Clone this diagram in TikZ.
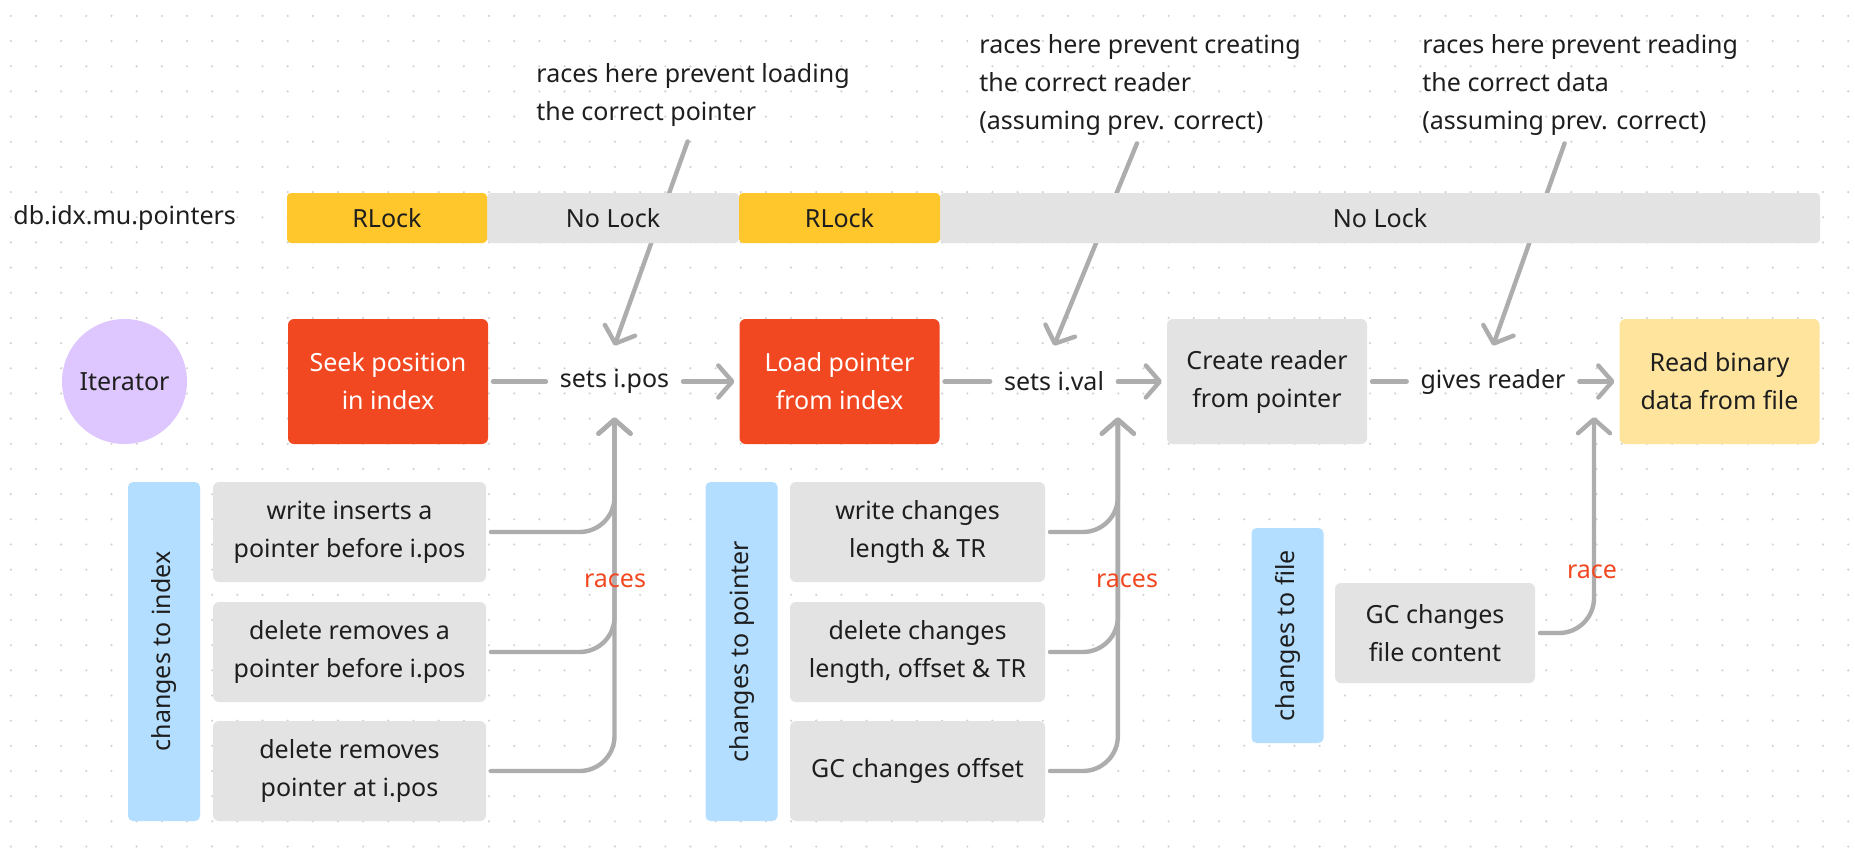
\documentclass[tikz,border=0pt]{standalone}
\usepackage{fontspec}
\setmainfont{Noto Sans}
\usetikzlibrary{arrows.meta,calc}
\definecolor{ink}{HTML}{1E1E1E}
\definecolor{redbox}{HTML}{F24822}
\definecolor{lockyel}{HTML}{FFC72C}
\definecolor{greybox}{HTML}{E3E3E3}
\definecolor{paleyel}{HTML}{FFE49E}
\definecolor{paleblue}{HTML}{B3DEFF}
\definecolor{lilac}{HTML}{DEC6FF}
\definecolor{wire}{HTML}{ADADAD}
\definecolor{racered}{HTML}{F24822}
\definecolor{dotc}{HTML}{D2D2D2}
\pgfdeclarelayer{dotlayer}
\pgfdeclarelayer{wirelayer}
\pgfsetlayers{dotlayer,wirelayer,main}
\begin{document}
\begin{tikzpicture}[x=0.5pt,y=-0.5pt,
  font=\fontsize{12.5}{19}\selectfont, text=ink,
  box/.style={rounded corners=3pt, align=center, inner sep=0pt, outer sep=2.5pt},
  bigbox/.style={box, minimum width=100pt, minimum height=62.5pt},
  smallbox/.style={box, fill=greybox, minimum height=50pt},
  lockbar/.style={minimum height=25pt, inner sep=0pt, rounded corners=2pt},
  bluebar/.style={fill=paleblue, rounded corners=2.5pt, rotate=90, inner sep=0pt, minimum height=36pt},
  midlabel/.style={minimum height=35.5pt, inner xsep=6.75pt, inner ysep=0pt},
  note/.style={align=left, inner sep=0pt},
  conn/.style={draw=wire, line width=2.2pt, line cap=round, line join=round},
  arr/.style={conn, -{Straight Barb[length=7pt,width=16pt,round]}},
  racelbl/.style={text=racered, inner sep=0pt},
]
\useasboundingbox (0,0) rectangle (1855,852);
\begin{pgfonlayer}{dotlayer}
\fill[white] (0,0) rectangle (1855,852);
\foreach \i in {0,...,73} {\foreach \j in {0,...,33} {\fill[dotc] (10.8+\i*25.17, 15.9+\j*25.17) circle (0.6pt);}}
\end{pgfonlayer}

% lock row
\node[anchor=west, inner sep=0pt] (db) at (13,218) {db.idx.mu.pointers};
\node[lockbar, fill=greybox, minimum width=126pt] (nl1) at (613,218) {No Lock};
\node[lockbar, fill=greybox, minimum width=440pt] (nl2) at (1380,218) {No Lock};
\node[lockbar, fill=lockyel, minimum width=100pt] (rl1) at (387,218) {RLock};
\node[lockbar, fill=lockyel, minimum width=100.5pt] (rl2) at (839.5,218) {RLock};

% main row
\node[circle, fill=lilac, minimum size=62.5pt, inner sep=0pt] (it) at (124.5,381.5) {Iterator};
\node[bigbox, fill=redbox, text=white] (seek) at (388,381.5) {Seek position\\in index};
\node[midlabel] (ipos) at (614.5,381.5) {sets i.pos};
\node[bigbox, fill=redbox, text=white] (load) at (839.5,381.5) {Load pointer\\from index};
\node[midlabel] (ival) at (1054,381.5) {sets i.val};
\node[bigbox, fill=greybox] (create) at (1267,381.5) {Create reader\\from pointer};
\node[midlabel] (gives) at (1493,381.5) {gives reader};
\node[bigbox, fill=paleyel] (read) at (1719.5,381.5) {Read binary\\data from file};

% notes
\node[note, anchor=west] (ann1) at (536,94.5) {races here prevent loading\\the correct pointer};
\node[note, anchor=west] (ann2) at (979,85) {races here prevent creating\\the correct reader\\(assuming prev. correct)};
\node[note, anchor=west] (ann3) at (1422,85) {races here prevent reading\\the correct data\\(assuming prev. correct)};

% change groups
\node[bluebar, minimum width=169.5pt] (blue1) at (164,651.5) {changes to index};
\node[smallbox, minimum width=136.5pt] (c1a) at (349.5,532) {write inserts a\\pointer before i.pos};
\node[smallbox, minimum width=136.5pt] (c1b) at (349.5,652) {delete removes a\\pointer before i.pos};
\node[smallbox, minimum width=136.5pt] (c1c) at (349.5,771) {delete removes\\pointer at i.pos};
\node[bluebar, minimum width=169.5pt] (blue2) at (741.5,651.5) {changes to pointer};
\node[smallbox, minimum width=127.5pt] (c2a) at (917.5,532) {write changes\\length \& TR};
\node[smallbox, minimum width=127.5pt] (c2b) at (917.5,652) {delete changes\\length, offset \& TR};
\node[smallbox, minimum width=127.5pt] (c2c) at (917.5,771) {GC changes offset};
\node[bluebar, minimum width=107.5pt] (blue3) at (1287.5,635.5) {changes to file};
\node[smallbox, minimum width=100pt] (gc) at (1435,633) {GC changes\\file content};
\coordinate (ftip) at (1594,417);

\node[racelbl] (r1) at (615,581) {races};
\node[racelbl] (r2) at (1127,581) {races};
\node[racelbl] (r3) at (1592,572) {race};

\begin{pgfonlayer}{wirelayer}
\draw[conn] (seek) -- (ipos);
\draw[arr] (ipos) -- (load);
\draw[conn] (load) -- (ival);
\draw[arr] (ival) -- (create);
\draw[conn] (create) -- (gives);
\draw[arr] (gives) -- (read);
\draw[arr, shorten <=8pt] (ann1.south) -- (ipos.north);
\draw[arr, shorten <=4pt] (ann2.south) -- (ival.north);
\draw[arr, shorten <=4pt] ([xshift=-6.5pt]ann3.south) -- (gives.north);
\draw[arr, rounded corners=17.5pt] (c1a.east) -| (ipos.south);
\draw[arr, rounded corners=17.5pt] (c1b.east) -| (ipos.south);
\draw[arr, rounded corners=17.5pt] (c1c.east) -| (ipos.south);
\draw[arr, rounded corners=17.5pt] (c2a.east) -| (ival.south east);
\draw[arr, rounded corners=17.5pt] (c2b.east) -| (ival.south east);
\draw[arr, rounded corners=17.5pt] (c2c.east) -| (ival.south east);
\draw[arr, rounded corners=17.5pt] (gc.east) -| (ftip);
\end{pgfonlayer}
\end{tikzpicture}
\end{document}
